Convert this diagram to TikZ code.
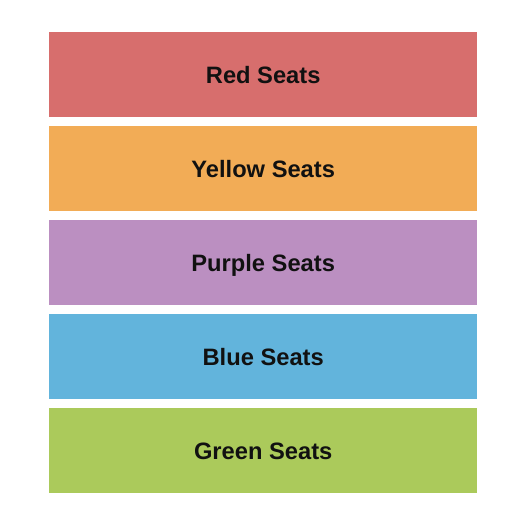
\documentclass[tikz,border=0pt]{standalone}
\usepackage{fontspec}
\setmainfont{Liberation Sans}
\definecolor{cred}{HTML}{D76E6D}
\definecolor{cyellow}{HTML}{F2AC56}
\definecolor{cpurple}{HTML}{BB8FC1}
\definecolor{cblue}{HTML}{62B4DC}
\definecolor{cgreen}{HTML}{ABCA5B}
\definecolor{ctext}{HTML}{111111}
\tikzset{
  section/.style={draw=none, minimum width=428pt, minimum height=85pt, inner sep=0pt,
    font=\fontsize{23.7}{28}\selectfont\bfseries, text=ctext, anchor=north west,
    text height=17pt, text depth=0pt}
}
\begin{document}
\begin{tikzpicture}[x=1pt,y=1pt]
\useasboundingbox (0,0) rectangle (525,-525);
\node[section, fill=cred] (red) at (49,-32) {Red Seats};
\node[section, fill=cyellow] (yellow) at (49,-126) {Yellow Seats};
\node[section, fill=cpurple] (purple) at (49,-220) {Purple Seats};
\node[section, fill=cblue] (blue) at (49,-314) {Blue Seats};
\node[section, fill=cgreen] (green) at (49,-408) {Green Seats};
\end{tikzpicture}
\end{document}
